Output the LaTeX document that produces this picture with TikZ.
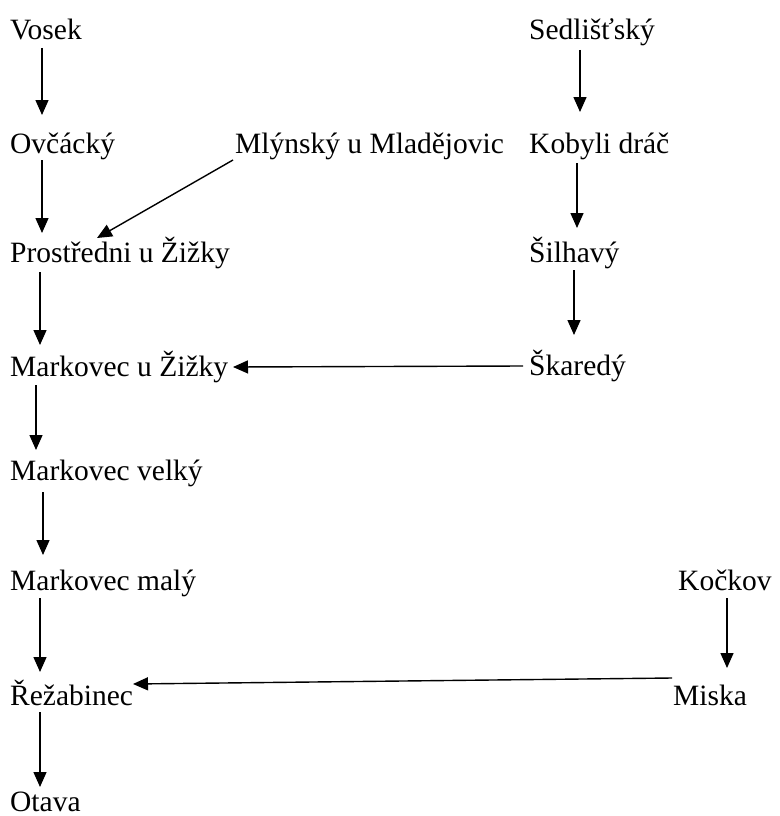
\documentclass[tikz,border=0pt]{standalone}
\usepackage{fontspec}
\setmainfont{Liberation Serif}
\usetikzlibrary{arrows.meta,calc}
\begin{document}
\begin{tikzpicture}[x=1pt,y=-1pt,
  lbl/.style={anchor=base west,inner sep=0pt,font=\fontsize{29.5}{34}\selectfont},
  arr/.style={line width=1.4pt,-{Triangle[width=13pt,length=15pt]}}]
\useasboundingbox[fill=white] (0,0) rectangle (779,816);
\node[lbl] (vosek) at (10,40) {Vosek};
\node[lbl] (ovc) at (10,153) {Ovčácký};
\node[lbl] (mly) at (235,153) {Mlýnský u Mladějovic};
\node[lbl] (prost) at (10,262) {Prostředni u Žižky};
\node[lbl] (mz) at (10,376) {Markovec u Žižky};
\node[lbl] (mv) at (10,480) {Markovec velký};
\node[lbl] (mm) at (10,590) {Markovec malý};
\node[lbl] (rez) at (10,705) {Řežabinec};
\node[lbl] (otava) at (10,811) {Otava};
\node[lbl] (sed) at (529,40) {Sedlišťský};
\node[lbl] (kob) at (529,153) {Kobyli dráč};
\node[lbl] (sil) at (529,262) {Šilhavý};
\node[lbl] (ska) at (529,375) {Škaredý};
\node[lbl] (koc) at (678,590) {Kočkov};
\node[lbl] (mis) at (673,705) {Miska};

\draw[arr] ($(vosek.base west)+(32,8)$) -- ($(ovc.base west)+(32,-38)$);
\draw[arr] ($(ovc.base west)+(32,7)$) -- ($(prost.base west)+(32,-29)$);
\draw[arr] ($(mly.base west)+(-2,7)$) -- ($(prost.base west)+(87,-24)$);
\draw[arr] ($(prost.base west)+(30,10)$) -- ($(mz.base west)+(30,-31)$);
\draw[arr] ($(mz.base west)+(26,9)$) -- ($(mv.base west)+(26,-30)$);
\draw[arr] ($(mv.base west)+(33,12)$) -- ($(mm.base west)+(33,-35)$);
\draw[arr] ($(mm.base west)+(30,8)$) -- ($(rez.base west)+(30,-33)$);
\draw[arr] ($(rez.base west)+(30,7)$) -- ($(otava.base west)+(30,-24)$);
\draw[arr] ($(sed.base west)+(51,10)$) -- ($(kob.base west)+(51,-41)$);
\draw[arr] ($(kob.base west)+(48,10)$) -- ($(sil.base west)+(48,-34)$);
\draw[arr] ($(sil.base west)+(45,8)$) -- ($(ska.base west)+(45,-40)$);
\draw[arr] ($(ska.base west)+(-6,-9)$) -- ($(mz.base west)+(223,-9)$);
\draw[arr] ($(koc.base west)+(49,8)$) -- ($(mis.base west)+(54,-37)$);
\draw[arr] ($(mis.base west)+(-1,-27)$) -- ($(rez.base west)+(123,-21)$);
\end{tikzpicture}
\end{document}
